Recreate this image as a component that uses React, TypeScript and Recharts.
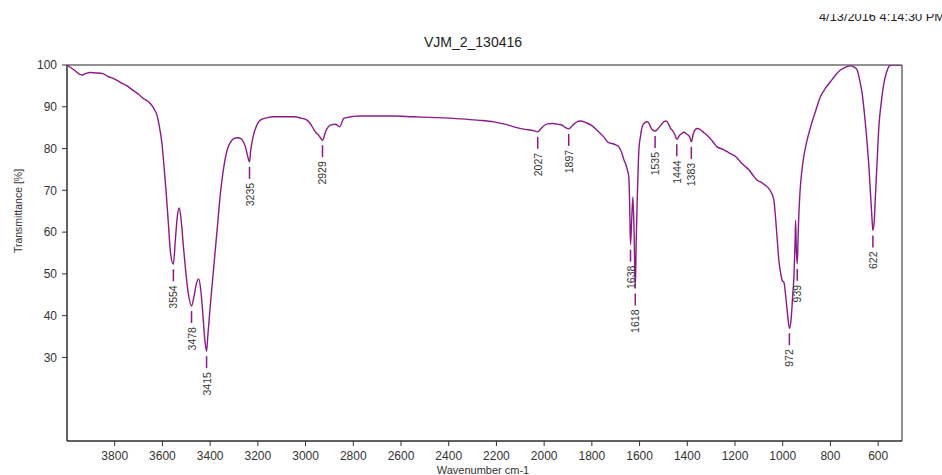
import React from 'react';
import { LineChart, Line, XAxis, YAxis, ReferenceArea, ReferenceDot } from 'recharts';

// spectrum: wavenumber (cm-1) and transmittance (%)
const wavenumbers = [
  4000, 3970, 3937, 3920, 3902, 3880, 3853, 3830, 3800, 3775, 3748, 3720, 3700, 3680, 3651, 3635,
  3623, 3612, 3602, 3593, 3584, 3575, 3566, 3554, 3546, 3537, 3529, 3520, 3512, 3504, 3492, 3478,
  3468, 3457, 3448, 3440, 3430, 3422, 3415, 3410, 3400, 3385, 3370, 3357, 3343, 3329, 3315, 3301,
  3285, 3269, 3260, 3252, 3244, 3235, 3230, 3220, 3205, 3190, 3160, 3134, 3090, 3050, 3020, 2994,
  2975, 2959, 2945, 2929, 2915, 2896, 2875, 2857, 2840, 2800, 2770, 2700, 2631, 2550, 2450, 2351,
  2280, 2211, 2170, 2127, 2080, 2045, 2027, 2010, 1987, 1963, 1940, 1925, 1910, 1897, 1880, 1865,
  1848, 1825, 1800, 1775, 1750, 1730, 1715, 1700, 1687, 1675, 1665, 1659, 1652, 1645, 1641, 1638,
  1633, 1628, 1623, 1618, 1614, 1610, 1606, 1603, 1596, 1589, 1578, 1568, 1560, 1554, 1545, 1535,
  1525, 1515, 1505, 1496, 1488, 1478, 1470, 1463, 1452, 1444, 1432, 1425, 1415, 1405, 1398, 1390,
  1383, 1375, 1367, 1358, 1345, 1330, 1317, 1295, 1275, 1250, 1235, 1219, 1200, 1180, 1163, 1140,
  1125, 1107, 1093, 1075, 1058, 1048, 1037, 1028, 1020, 1016, 1008, 1002, 995, 988, 980, 972,
  965, 958, 953, 948, 946, 943, 939, 935, 928, 920, 912, 900, 883, 862, 842, 820,
  800, 780, 758, 735, 716, 700, 688, 678, 667, 656, 646, 638, 632, 626, 622, 616,
  611, 605, 597, 587, 576, 565, 555, 545, 520, 505,
];
const transmittance = [
  100, 98.8, 97.6, 98.0, 98.2, 98.1, 98.0, 97.3, 96.6, 95.8, 95.0, 93.8, 93.0, 92.0, 90.8, 89.5,
  88.0, 85.0, 81.2, 75.5, 69.2, 62.0, 55.0, 52.3, 58.0, 64.0, 65.8, 62.0, 56.5, 51.6, 45.5, 42.3,
  44.5, 47.8, 48.8, 46.5, 40.0, 34.0, 31.5, 35.0, 42.0, 51.6, 61.0, 69.3, 75.5, 79.6, 81.5, 82.4,
  82.6, 82.3, 81.5, 80.4, 78.5, 76.8, 79.5, 82.8, 85.5, 86.8, 87.4, 87.6, 87.6, 87.6, 87.3, 86.8,
  85.5, 84.0, 83.2, 82.0, 84.2, 85.6, 85.8, 85.2, 87.2, 87.7, 87.8, 87.8, 87.8, 87.6, 87.4, 87.1,
  86.8, 86.4, 85.9, 85.2, 84.6, 84.3, 84.0, 85.0, 85.9, 86.0, 85.8, 85.6, 85.0, 84.7, 85.6, 86.3,
  86.6, 86.2, 85.5, 84.2, 82.8, 81.4, 81.2, 80.9, 80.4, 79.0, 77.2, 76.4, 75.0, 73.2, 65.0, 57.0,
  63.0, 68.4, 60.0, 46.5, 58.0, 67.6, 75.0, 79.6, 83.0, 85.2, 86.2, 86.4, 86.0, 85.2, 84.4, 84.2,
  84.6, 85.3, 86.0, 86.5, 86.6, 85.8, 84.8, 84.4, 83.3, 82.2, 83.2, 83.5, 83.9, 83.6, 83.3, 82.8,
  81.6, 83.5, 84.5, 84.8, 84.5, 83.8, 83.2, 81.8, 80.4, 79.8, 79.3, 78.8, 78.2, 77.0, 76.0, 74.8,
  73.6, 72.4, 72.0, 71.3, 70.4, 69.5, 67.6, 62.0, 56.0, 53.2, 50.0, 48.4, 48.0, 45.0, 40.5, 37.0,
  39.0, 45.0, 49.2, 58.0, 62.8, 56.0, 52.4, 60.0, 69.2, 74.5, 78.0, 81.5, 85.2, 89.0, 92.4, 94.5,
  96.0, 97.5, 98.8, 99.5, 99.8, 99.5, 98.8, 96.5, 93.2, 87.5, 81.2, 75.0, 69.2, 63.5, 60.4, 63.0,
  69.2, 76.0, 85.2, 91.0, 95.6, 98.2, 99.6, 100, 100, 100,
];

// labelled peaks
const peakWavenumbers = [3554, 3478, 3415, 3235, 2929, 2027, 1897, 1638, 1618, 1535, 1444, 1383, 972, 939, 622];
const peakLevels = [52.3, 42.3, 31.5, 76.8, 82.0, 84.0, 84.7, 57.0, 46.5, 84.2, 82.2, 81.6, 37.0, 52.4, 60.4];

const xTicks = [3800, 3600, 3400, 3200, 3000, 2800, 2600, 2400, 2200, 2000, 1800, 1600, 1400, 1200, 1000, 800, 600];
const yTicks = [30, 40, 50, 60, 70, 80, 90, 100];

const PURPLE = '#8b1a89';
const FONT = '"Liberation Sans", Arial, sans-serif';

const data = wavenumbers.map((w, i) => ({ w, t: transmittance[i] }));

function PeakMark({ cx, cy, text }: { cx?: number; cy?: number; text: string }) {
  if (cx == null || cy == null) return null;
  return (
    <g>
      <line x1={cx} x2={cx} y1={cy + 5} y2={cy + 17} stroke={PURPLE} strokeWidth={1.5} />
      <text
        x={cx}
        y={cy + 21}
        transform={`rotate(-90 ${cx} ${cy + 21})`}
        textAnchor="end"
        dominantBaseline="central"
        fontSize={10.5}
        fontFamily={FONT}
        fill="#333"
      >
        {text}
      </text>
    </g>
  );
}

export default function App() {
  return (
    <div style={{ position: 'absolute', left: 0, top: 0, width: 942, height: 475, background: '#fff', overflow: 'hidden', fontFamily: FONT }}>
      <LineChart width={942} height={475} data={data} margin={{ top: 65, right: 40, bottom: 4, left: 17 }}>
        <XAxis
          dataKey="w"
          type="number"
          domain={[500, 4000]}
          reversed
          ticks={xTicks}
          tickSize={5}
          tickMargin={5}
          height={30}
          stroke="#333"
          tick={{ fill: '#333', fontSize: 12, fontFamily: FONT }}
          allowDataOverflow
        />
        <YAxis
          type="number"
          domain={[10, 100]}
          ticks={yTicks}
          tickSize={5}
          tickMargin={5}
          width={50}
          stroke="#333"
          tick={{ fill: '#333', fontSize: 12, fontFamily: FONT }}
          allowDataOverflow
        />
        <ReferenceArea x1={4000} x2={500} y1={10} y2={100} stroke="#222" strokeWidth={1} fill="none" fillOpacity={0} />
        <Line type="monotone" dataKey="t" stroke={PURPLE} strokeWidth={1.4} dot={false} isAnimationActive={false} />
        {peakWavenumbers.map((w, i) => (
          <ReferenceDot
            key={w}
            x={w}
            y={peakLevels[i]}
            r={0}
            shape={(props: any) => <PeakMark cx={props.cx} cy={props.cy} text={String(w)} />}
          />
        ))}
      </LineChart>

      <svg width={942} height={475} style={{ position: 'absolute', left: 0, top: 0, pointerEvents: 'none' }}>
        <text x={473} y={47} textAnchor="middle" fontSize={14} fontFamily={FONT} fill="#222">VJM_2_130416</text>
        <text x={819} y={21} fontSize={12} fontFamily={FONT} fill="#222" textLength={126} lengthAdjust="spacingAndGlyphs">4/13/2016  4:14:30 PM</text>
        <text
          x={18}
          y={211}
          transform="rotate(-90 18 211)"
          textAnchor="middle"
          dominantBaseline="central"
          fontSize={10.5}
          fontFamily={FONT}
          fill="#333"
        >
          Transmittance [%]
        </text>
        <text x={483} y={474} textAnchor="middle" fontSize={11} fontFamily={FONT} fill="#333">Wavenumber cm-1</text>
        <rect x={0} y={0} width={942} height={14} fill="#fff" />
      </svg>
    </div>
  );
}
